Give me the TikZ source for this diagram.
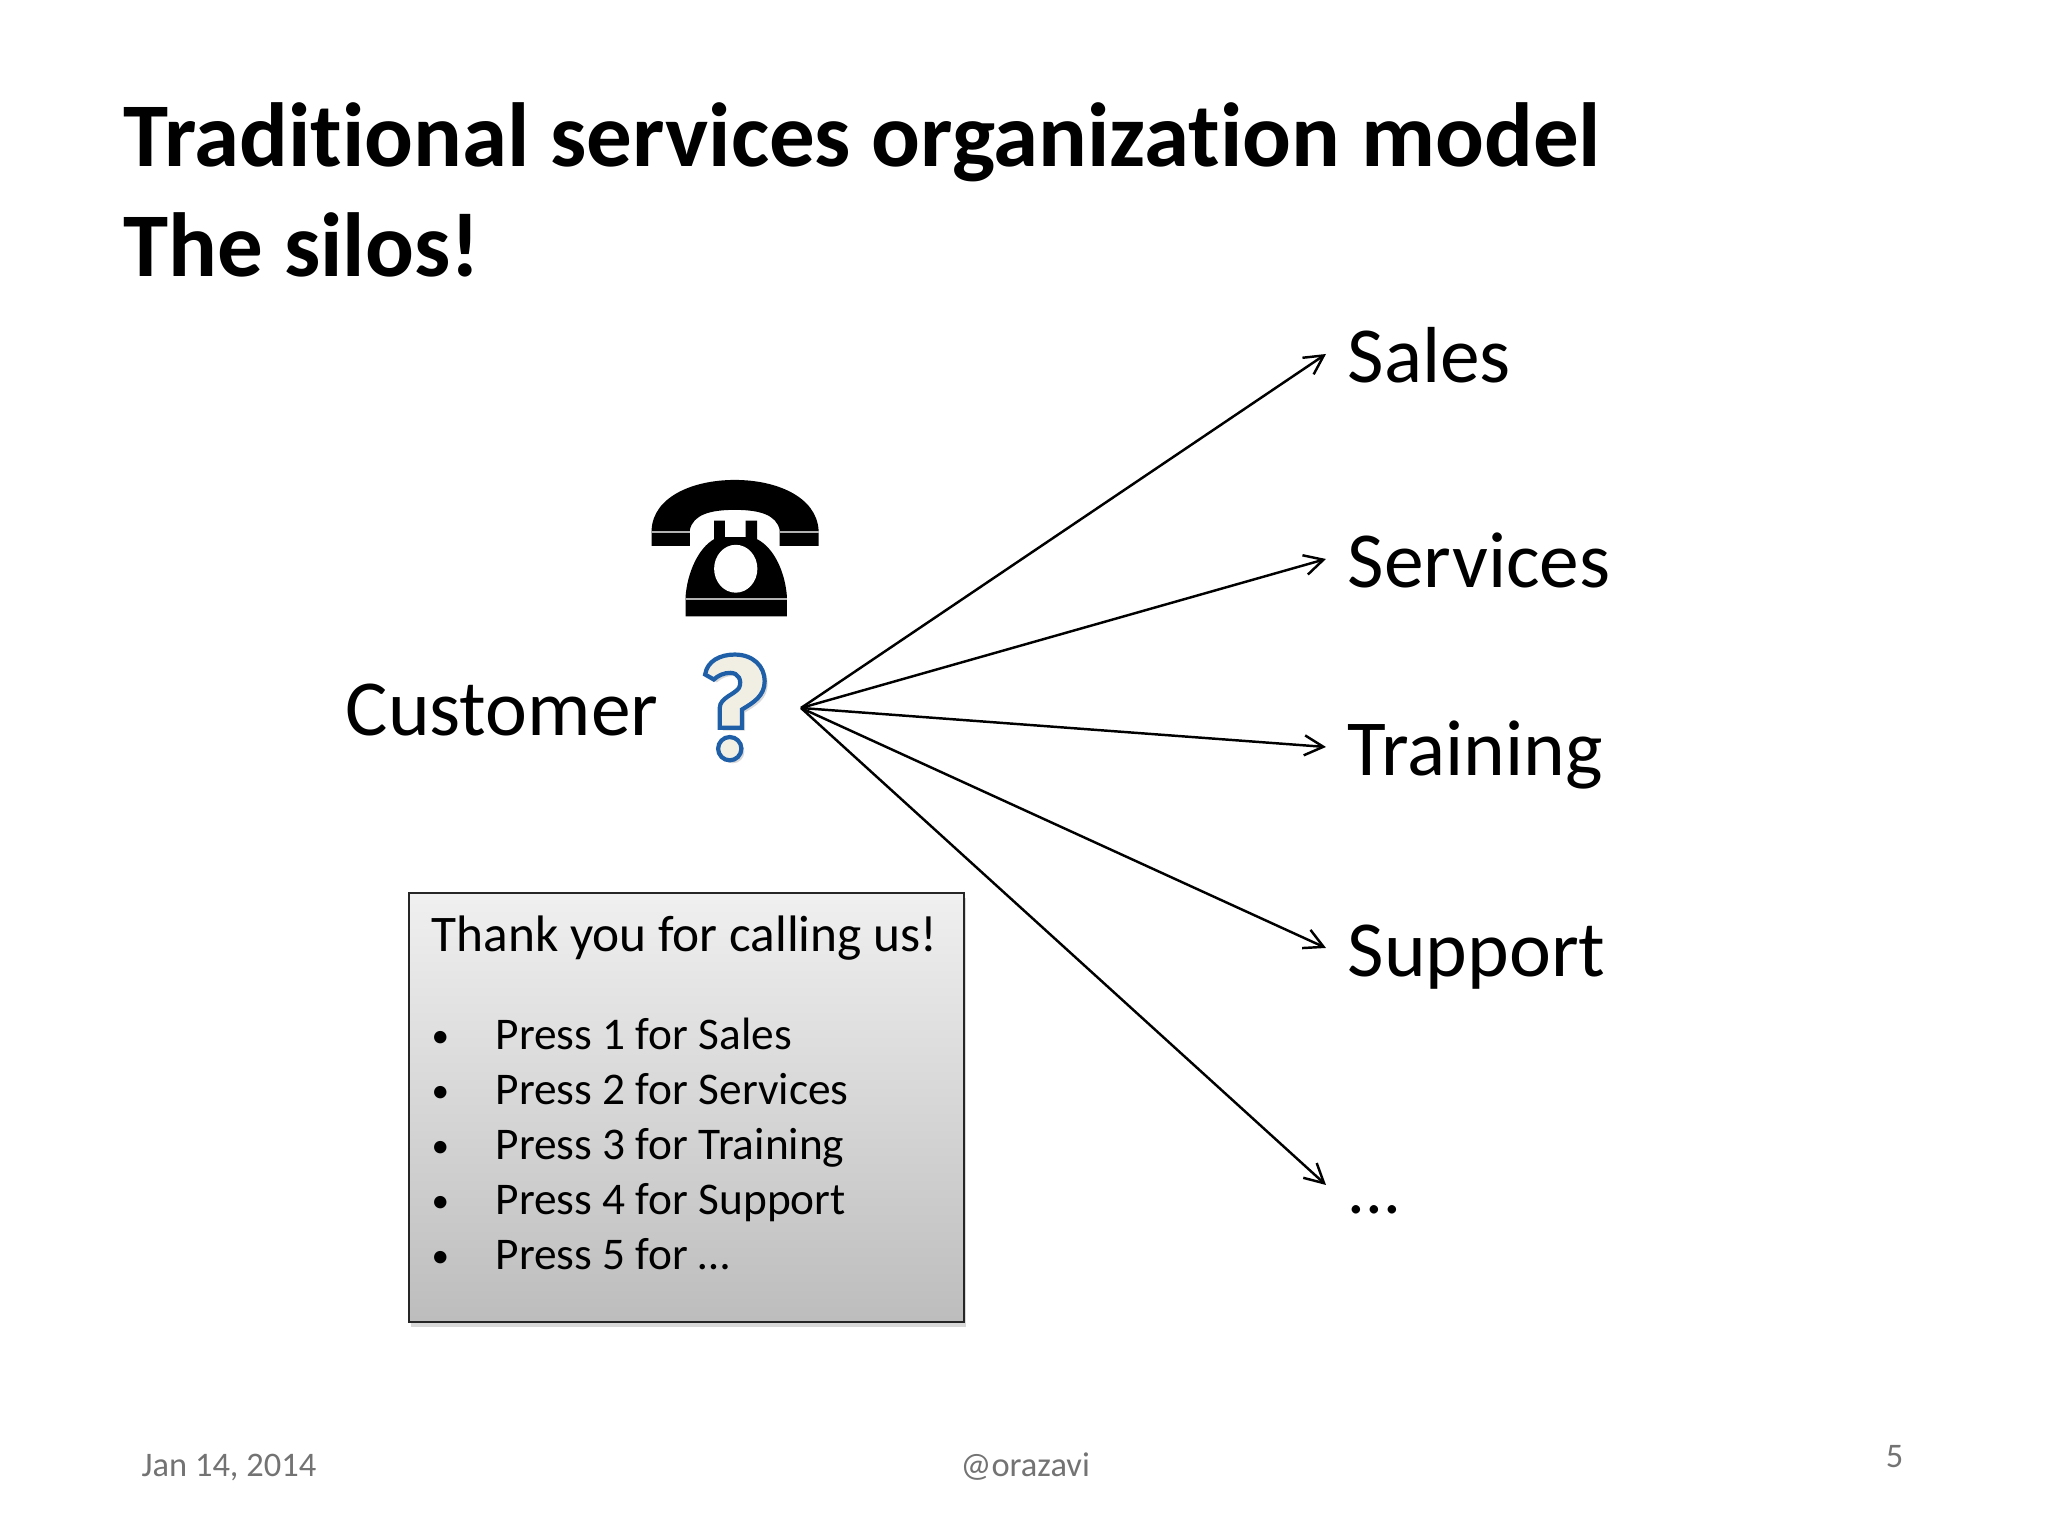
\documentclass[tikz,border=0pt]{standalone}
\usepackage{fontspec}
\setmainfont[Ligatures=NoCommon]{Carlito}
\usetikzlibrary{arrows.meta,shadows}
\definecolor{markblue}{HTML}{1F5FA8}
\definecolor{markfill}{HTML}{F1EEE4}
\begin{document}
\begin{tikzpicture}[
		silo/.style={anchor=base west, font=\fontsize{22.6}{22.6}\selectfont, inner xsep=0.21cm, inner ysep=0pt, text height=0.58cm, text depth=0pt},
		headline/.style={anchor=base west, font=\fontsize{25.9}{25.9}\selectfont\bfseries, inner sep=0pt},
		menuline/.style={anchor=base west, font=\fontsize{12.9}{12.9}\selectfont, inner sep=0pt},
		footer/.style={anchor=base west, font=\fontsize{9.8}{9.8}\selectfont, text=black!55, inner sep=0pt},
		fan/.style={-{Straight Barb[length=0.19cm,width=0.2cm]}, line width=0.7pt},
		markshadow/.style={drop shadow={shadow xshift=0.03cm, shadow yshift=-0.03cm, opacity=0.3}},
	]
	\useasboundingbox (0,0) rectangle (20.48,15.36);
	\node[headline] (title) at (1.23,13.69) {Traditional services organization model};
	\node[headline] (subtitle) at (1.23,12.59) {The silos!};

	\node[anchor=base west, font=\fontsize{22.6}{22.6}\selectfont, inner sep=0pt] (customer) at (3.45,8.00) {Customer};
	\coordinate (hub) at (8.01,8.28);

	\begin{scope}[shift={(6.20,10.76)}, x=0.00333cm, y=-0.00333cm]
		\fill[black] (95,258) -- (95,210) .. controls (100,110) and (220,60) .. (345,60) .. controls (470,60) and (590,110) .. (597,210) -- (597,258) -- (480,258) -- (480,210) .. controls (470,165) and (420,150) .. (345,150) .. controls (270,150) and (220,165) .. (210,210) -- (210,258) -- cycle;
		\fill[black] (283,182) -- (315,182) -- (315,232) -- (378,232) -- (378,182) -- (412,182) -- (412,238) .. controls (465,265) and (497,340) .. (502,412) -- (502,470) -- (197,470) -- (197,412) .. controls (202,340) and (235,265) .. (283,238) -- cycle;
		\fill[white] (348,327) ellipse (65 and 72);
		\draw[black!30, line width=0.6pt] (95,216) -- (210,216) (480,216) -- (597,216) (197,418) -- (502,418);
		\begin{scope}[line width=1.2pt, draw=markblue, fill=markfill]
			\filldraw[markshadow] (256,645) .. controls (262,605) and (300,585) .. (345,585) .. controls (400,585) and (435,620) .. (435,665) .. controls (435,710) and (400,730) .. (367,750) -- (367,805) -- (300,805) -- (300,745) .. controls (300,715) and (345,705) .. (358,685) .. controls (368,662) and (355,640) .. (332,640) .. controls (312,640) and (295,648) .. (282,660) -- cycle;
			\filldraw[markshadow] (330,868) ellipse (35 and 35);
		\end{scope}
	\end{scope}

	\node[silo] (sales) at (13.26,11.53) {Sales};
	\node[silo] (services) at (13.26,9.48) {Services};
	\node[silo] (training) at (13.26,7.60) {Training};
	\node[silo] (support) at (13.26,5.59) {Support};
	\node[silo, font=\fontsize{20}{20}\selectfont] (more) at (13.26,3.22) {...};
	\foreach \target in {sales,services,training,support,more}
		\draw[fan] (hub) -- (\target.west);

	\node[draw=black!85, line width=0.8pt, minimum width=5.55cm, minimum height=4.29cm, top color=black!6, bottom color=black!26, drop shadow={shadow xshift=0.02cm, shadow yshift=-0.05cm, opacity=0.3}] (menu) at (6.865,4.285) {};
	\node[menuline, font=\fontsize{14.6}{14.6}\selectfont] (thanks) at (4.31,5.84) {Thank you for calling us!};
	\foreach \n/\entry/\y in {1/Press 1 for Sales/4.86, 2/Press 2 for Services/4.31, 3/Press 3 for Training/3.76, 4/Press 4 for Support/3.21, 5/{Press 5 for …}/2.66} {
		\node[menuline, font=\fontsize{10}{10}\selectfont] (dot\n) at (4.31,\y+0.02) {•};
		\node[menuline] (press\n) at (4.95,\y) {\entry};
	}

	\node[footer] (date) at (1.41,0.59) {Jan 14, 2014};
	\node[footer] (handle) at (9.60,0.59) {@orazavi};
	\node[footer, anchor=base east] (page) at (19.04,0.68) {5};
\end{tikzpicture}
\end{document}
